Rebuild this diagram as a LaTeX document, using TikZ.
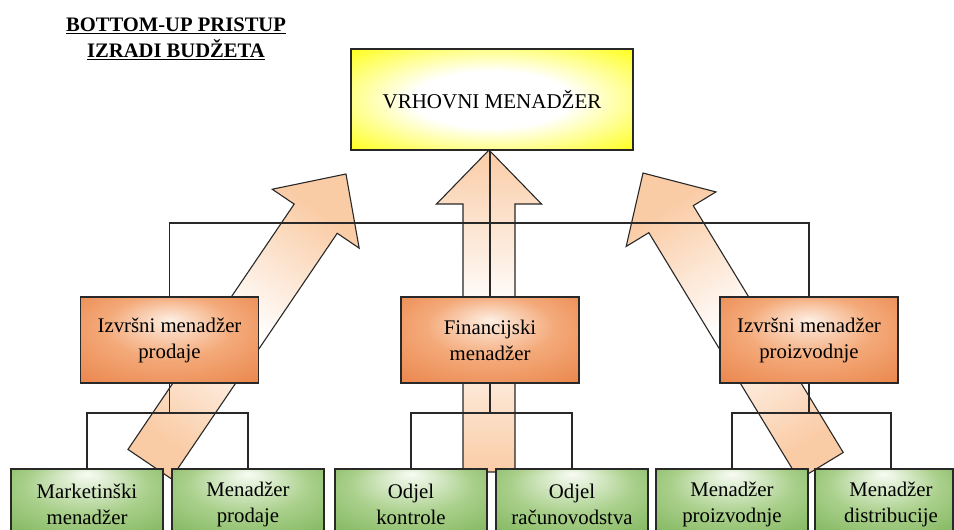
\documentclass[tikz,border=0pt]{standalone}
\usepackage{fontspec}
\setmainfont{Liberation Serif}
\definecolor{peach}{RGB}{250,204,166}
\definecolor{orE}{RGB}{228,112,48}
\definecolor{orM}{RGB}{244,170,122}
\definecolor{orC}{RGB}{253,238,226}
\definecolor{grE}{RGB}{100,164,60}
\definecolor{grM}{RGB}{170,208,140}
\definecolor{grC}{RGB}{248,252,244}
\definecolor{lineC}{RGB}{40,40,40}
\pgfdeclareradialshading{yglow}{\pgfpointorigin}{color(0bp)=(white);color(14bp)=(white);color(38bp)=(yellow);color(50bp)=(yellow)}
\pgfdeclareradialshading{oglow}{\pgfpoint{0bp}{12bp}}{color(0bp)=(orC);color(18bp)=(orM);color(50bp)=(orE)}
\pgfdeclareradialshading{gglow}{\pgfpoint{0bp}{22bp}}{color(0bp)=(grC);color(20bp)=(grM);color(50bp)=(grE)}
\tikzset{
  topbox/.style={draw=lineC, line width=1.2pt, shade, shading=yglow, minimum width=282pt, minimum height=101pt, inner sep=0pt, font=\fontsize{21}{26}\selectfont},
  midbox/.style={draw=lineC, line width=1.2pt, shade, shading=oglow, minimum width=178pt, minimum height=86pt, inner sep=0pt, align=center, font=\fontsize{20.8}{26}\selectfont},
  botbox/.style={draw=lineC, line width=1.2pt, shade, shading=gglow, minimum width=152pt, minimum height=70pt, inner sep=0pt, align=center, font=\fontsize{20.8}{26}\selectfont},
  conn/.style={draw=lineC, line width=1.2pt},
  bigarrow/.style={draw=lineC, line width=1.1pt, line join=miter, top color=peach, bottom color=peach, middle color=white},
  titletext/.style={align=center, font=\bfseries\fontsize{20.6}{25.5}\selectfont}
}
\begin{document}
\begin{tikzpicture}[x=1pt,y=1pt]
\clip (0,0) rectangle (954,530);
\fill[white] (0,0) rectangle (954,530);

% title
\node[titletext] (title) at (176,491) {\underline{BOTTOM-UP PRISTUP}\\\underline{IZRADI BUDŽETA}};

% arrows (behind everything else)
\path[bigarrow] (463,58) -- (463,326) -- (436.5,326) -- (489,380) -- (541.5,326) -- (515,326) -- (515,58) -- cycle;
\path[bigarrow, shading angle=-34.13] (171.03,51.42) -- (337.23,296.73) -- (359.16,281.86) -- (345.98,356.01) -- (272.24,340.76) -- (294.17,325.89) -- (127.97,80.58) -- cycle;
\path[bigarrow, shading angle=31.28] (843.22,77.50) -- (693.27,324.31) -- (715.92,338.07) -- (643.02,356.96) -- (626.18,283.55) -- (648.83,297.31) -- (798.78,50.50) -- cycle;

% boxes
\node[topbox] (top) at (492,430.5) {VRHOVNI MENADŽER};
\node[midbox] (lmgr) at (169.5,190) {Izvršni menadžer\\prodaje};
\node[midbox] (fin) at (490,190) {Financijski\\menadžer};
\node[midbox] (rmgr) at (809,190) {Izvršni menadžer\\proizvodnje};

\node[botbox] (b1) at (87,26) {Marketinški\\menadžer};
\node[botbox] (b2) at (248,26) {Menadžer\\prodaje};
\node[botbox] (b3) at (411,26) {Odjel\\kontrole};
\node[botbox] (b4) at (572,26) {Odjel\\računovodstva};
\node[botbox] (b5) at (732,26) {Menadžer\\proizvodnje};
\node[botbox, minimum width=138pt] (b6) at (884,26) {\hspace*{14pt}\begin{tabular}{@{}c@{}}Menadžer\\distribucije\end{tabular}};

% connectors
\coordinate (hy) at (0,307);
\coordinate (ly) at (0,117);
\draw[conn] (fin.north) -- (fin.north |- top.south);
\draw[conn] (lmgr.north) |- (rmgr.north |- hy) -- (rmgr.north);
\draw[conn] (lmgr.south) -- (lmgr.south |- ly);
\draw[conn] (b1.north) |- (b2.north |- ly) -- (b2.north);
\draw[conn] (fin.south) -- (fin.south |- ly);
\draw[conn] (b3.north) |- (b4.north |- ly) -- (b4.north);
\draw[conn] (rmgr.south) -- (rmgr.south |- ly);
\draw[conn] (b5.north) |- ([xshift=7pt]b6.north |- ly) -- ([xshift=7pt]b6.north);
\end{tikzpicture}
\end{document}
